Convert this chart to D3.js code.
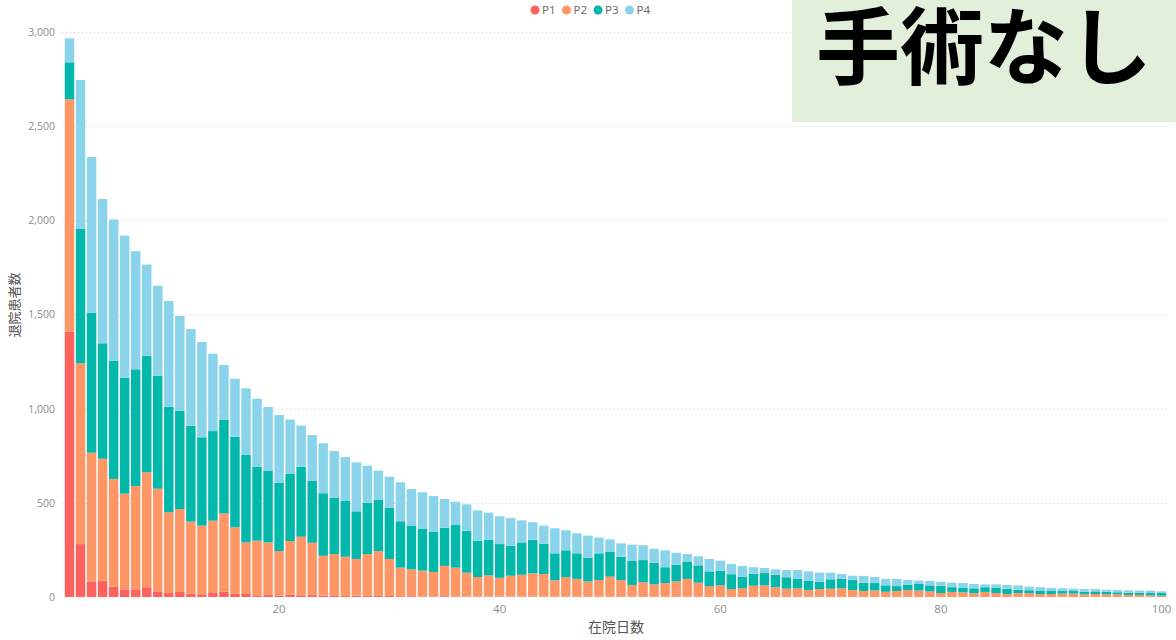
<!DOCTYPE html>
<html>
<head>
<meta charset="utf-8">
<script src="https://cdn.jsdelivr.net/npm/d3@7"></script>
<style>
  body { margin: 0; background: #fff; }
  svg text { font-family: "Open Sans", "Noto Sans CJK JP", sans-serif; }
</style>
</head>
<body>
<svg id="chart" width="1176" height="640"></svg>
<script>
var width = 1176,
    height = 640;

// 在院日数 1..100
var days = d3.range(1, 101);
var seriesNames = ["P1", "P2", "P3", "P4"];
var seriesColors = ["#FD625E", "#FE9666", "#01B8AA", "#8AD4EB"];

var p1 = [1409, 281, 81, 87, 55, 41, 41, 52, 27, 21, 27, 18, 14, 25, 29, 18, 16, 6, 11, 8,
          14, 9, 10, 8, 6, 5, 7, 6, 6, 5, 4, 4, 3, 3, 4, 3, 3, 2, 2, 2,
          2, 2, 2, 2, 1, 1, 1, 1, 1, 1, 1, 1, 1, 1, 1, 1, 1, 1, 0, 0,
          0, 0, 0, 0, 0, 0, 0, 0, 0, 0, 0, 0, 0, 0, 0, 0, 0, 0, 0, 0,
          0, 0, 0, 0, 0, 0, 0, 0, 0, 0, 0, 0, 0, 0, 0, 0, 0, 0, 0, 0];
var p2 = [1234, 960, 685, 647, 572, 508, 548, 610, 548, 429, 440, 382, 365, 380, 415, 352, 274, 293, 279, 236,
          283, 311, 278, 211, 222, 209, 195, 222, 237, 197, 152, 143, 137, 130, 161, 153, 126, 104, 113, 100,
          111, 116, 124, 120, 88, 104, 95, 82, 89, 107, 89, 63, 77, 66, 73, 82, 95, 75, 57, 62,
          42, 46, 60, 62, 52, 44, 46, 37, 42, 44, 46, 37, 32, 35, 28, 32, 37, 34, 30, 21,
          27, 25, 20, 27, 21, 16, 21, 20, 16, 16, 18, 18, 14, 16, 14, 14, 11, 11, 9, 7];
var p3 = [196, 713, 744, 613, 628, 614, 620, 619, 599, 560, 521, 510, 469, 476, 496, 481, 464, 393, 379, 363,
          358, 372, 328, 332, 298, 296, 253, 273, 272, 271, 246, 230, 221, 212, 203, 226, 223, 193, 188, 179,
          158, 172, 178, 161, 143, 143, 136, 126, 142, 133, 124, 127, 118, 114, 84, 89, 90, 92, 79, 78,
          79, 62, 64, 65, 66, 61, 50, 50, 39, 50, 51, 53, 44, 39, 34, 26, 27, 35, 32, 39,
          25, 23, 26, 25, 29, 28, 18, 16, 16, 16, 16, 14, 14, 14, 14, 11, 12, 12, 12, 14];
var p4 = [127, 791, 826, 766, 750, 756, 627, 484, 479, 562, 504, 513, 506, 411, 292, 308, 354, 361, 340, 359,
          287, 218, 244, 265, 249, 233, 260, 196, 156, 166, 207, 196, 195, 191, 152, 124, 140, 161, 145, 148,
          148, 117, 93, 96, 133, 106, 106, 117, 83, 65, 71, 87, 79, 75, 90, 63, 42, 48, 66, 53,
          54, 57, 34, 27, 29, 38, 47, 49, 48, 35, 25, 23, 36, 32, 35, 38, 26, 18, 23, 21,
          24, 26, 23, 15, 17, 20, 23, 19, 20, 16, 12, 12, 14, 12, 11, 12, 12, 11, 13, 9];

var yTicks = [0, 500, 1000, 1500, 2000, 2500, 3000];
var xTickLabels = [20, 40, 60, 80, 100];
var xTitle = "在院日数",
    yTitle = "退院患者数",
    badgeText = "手術なし";

var rows = days.map(function(d, i) {
  return { day: d, P1: p1[i], P2: p2[i], P3: p3[i], P4: p4[i] };
});

var svg = d3.select("#chart");

svg.append("rect")
    .attr("width", width)
    .attr("height", height)
    .attr("fill", "#fff");

var x = d3.scaleBand()
    .domain(days)
    .range([64, 1167])
    .paddingInner(0.14)
    .paddingOuter(0.07);

var y = d3.scaleLinear()
    .domain([0, 3000])
    .range([597, 32]);

var color = d3.scaleOrdinal()
    .domain(seriesNames)
    .range(seriesColors);

// gridlines
svg.append("g")
    .selectAll("line")
    .data(yTicks.filter(function(d) { return d > 0; }))
    .enter().append("line")
    .attr("x1", 62)
    .attr("x2", 1168)
    .attr("y1", function(d) { return y(d) + 0.5; })
    .attr("y2", function(d) { return y(d) + 0.5; })
    .attr("stroke", "#c8c8c8")
    .attr("stroke-width", 1)
    .attr("stroke-dasharray", "1,3");

var stack = d3.stack().keys(seriesNames);
var layers = stack(rows);

svg.append("g")
    .selectAll("g")
    .data(layers)
    .enter().append("g")
    .attr("fill", function(d) { return color(d.key); })
    .selectAll("rect")
    .data(function(d) { return d; })
    .enter().append("rect")
    .attr("x", function(d) { return x(d.data.day); })
    .attr("width", x.bandwidth())
    .attr("y", function(d) { return y(d[1]); })
    .attr("height", function(d) { return y(d[0]) - y(d[1]); });

// axes
var yAxis = svg.append("g")
    .attr("transform", "translate(62,0)")
    .call(d3.axisLeft(y)
        .tickValues(yTicks)
        .tickFormat(d3.format(","))
        .tickSize(0)
        .tickPadding(7));
yAxis.select(".domain").remove();
yAxis.selectAll("text")
    .attr("font-size", 10.5)
    .attr("fill", "#8c8c8c");

var xAxis = svg.append("g")
    .attr("transform", "translate(0,597)")
    .call(d3.axisBottom(x)
        .tickValues(xTickLabels)
        .tickSize(0)
        .tickPadding(8));
xAxis.select(".domain").remove();
xAxis.selectAll("text")
    .attr("font-size", 11.5)
    .attr("fill", "#8c8c8c");

svg.append("text")
    .attr("x", 616)
    .attr("y", 632)
    .attr("text-anchor", "middle")
    .attr("font-size", 14)
    .attr("fill", "#555")
    .text(xTitle);

svg.append("text")
    .attr("transform", "translate(19,305) rotate(-90)")
    .attr("text-anchor", "middle")
    .attr("font-size", 13)
    .attr("fill", "#555")
    .text(yTitle);

// legend
var legend = svg.append("g").attr("transform", "translate(535,10)");
var lx = 0;
seriesNames.forEach(function(name) {
  legend.append("circle")
      .attr("cx", lx)
      .attr("cy", 0)
      .attr("r", 4.5)
      .attr("fill", color(name));
  var t = legend.append("text")
      .attr("x", lx + 7)
      .attr("y", 0)
      .attr("dy", "0.35em")
      .attr("font-size", 11.5)
      .attr("fill", "#666")
      .text(name);
  lx += 7 + t.node().getComputedTextLength() + 11;
});

// badge
svg.append("rect")
    .attr("x", 792)
    .attr("y", 0)
    .attr("width", 384)
    .attr("height", 122)
    .attr("fill", "#E2EFDA");

svg.append("text")
    .attr("x", 984)
    .attr("y", 78)
    .attr("text-anchor", "middle")
    .attr("font-size", 84)
    .attr("font-weight", "bold")
    .style("font-family", "'Noto Sans CJK JP', sans-serif")
    .attr("fill", "#000")
    .text(badgeText);
</script>
</body>
</html>
